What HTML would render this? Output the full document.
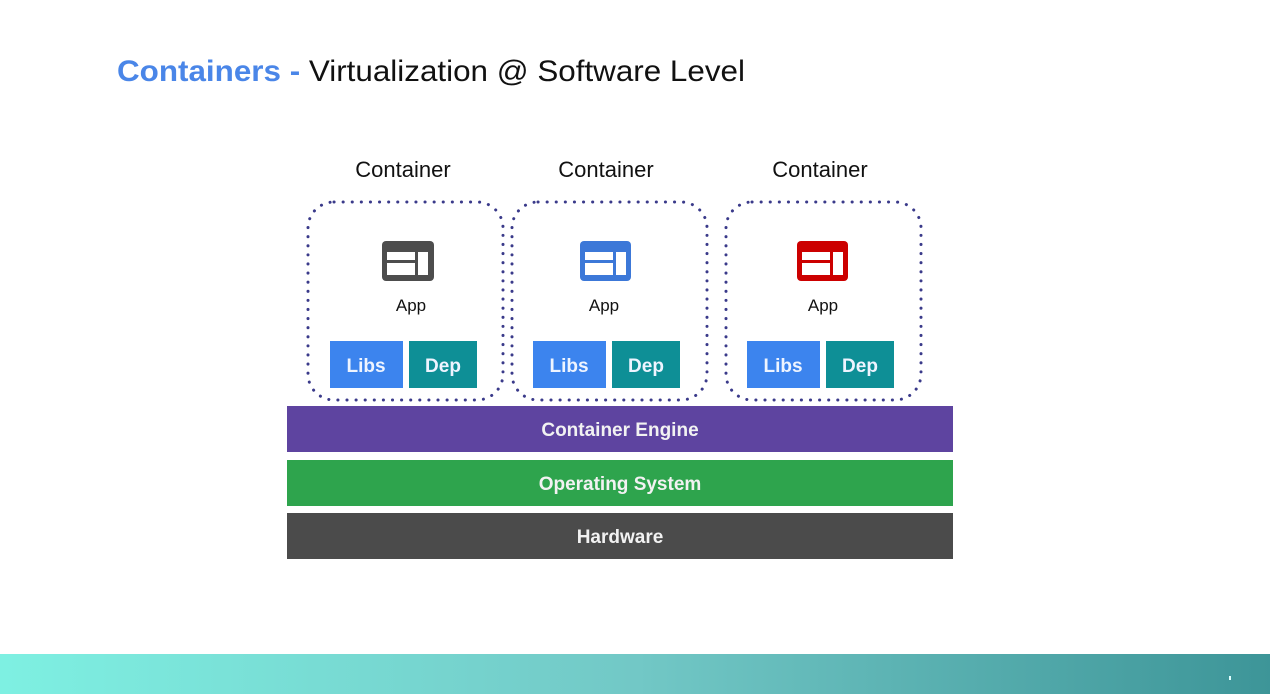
<!DOCTYPE html>
<html><head><meta charset="utf-8"><style>
html,body{margin:0;padding:0;background:#fff;}
svg{display:block;}
text{font-family:"Liberation Sans",sans-serif;}
</style></head><body>
<svg width="1270" height="694" viewBox="0 0 1270 694" xmlns="http://www.w3.org/2000/svg">
<defs>
<linearGradient id="bg" x1="0" y1="0" x2="1" y2="0">
<stop offset="0" stop-color="#7ef0e2"/><stop offset="0.5" stop-color="#72c8c6"/><stop offset="1" stop-color="#3d9598"/>
</linearGradient>
</defs>
<rect width="1270" height="694" fill="#fff"/>
<text x="117" y="81" font-size="30" textLength="628" lengthAdjust="spacingAndGlyphs"><tspan fill="#4a86e8" font-weight="bold">Containers - </tspan><tspan fill="#111">Virtualization @ Software Level</tspan></text>

<g font-size="22" fill="#111" text-anchor="middle">
<text x="403" y="177">Container</text>
<text x="606" y="177">Container</text>
<text x="820" y="177">Container</text>
</g>

<g fill="none" stroke="#3a3a8a" stroke-width="3" stroke-dasharray="0.1 9" stroke-linecap="round">
<rect x="308" y="202" width="195" height="198" rx="26"/>
<rect x="512" y="202" width="195" height="198" rx="26"/>
<rect x="726" y="202" width="195" height="198" rx="26"/>
</g>

<g>
<rect x="382" y="241" width="52" height="40" rx="4" fill="#4d4d4d"/>
<rect x="387" y="252" width="28" height="8" fill="#fff"/><rect x="387" y="263" width="28" height="12" fill="#fff"/><rect x="418" y="252" width="10" height="23" fill="#fff"/>
<rect x="580" y="241" width="51" height="40" rx="4" fill="#3c78d8"/>
<rect x="585" y="252" width="28" height="8" fill="#fff"/><rect x="585" y="263" width="28" height="12" fill="#fff"/><rect x="616" y="252" width="10" height="23" fill="#fff"/>
<rect x="797" y="241" width="51" height="40" rx="4" fill="#cc0000"/>
<rect x="802" y="252" width="28" height="8" fill="#fff"/><rect x="802" y="263" width="28" height="12" fill="#fff"/><rect x="833" y="252" width="10" height="23" fill="#fff"/>
</g>
<g font-size="17" fill="#111" text-anchor="middle">
<text x="411" y="311">App</text><text x="604" y="311">App</text><text x="823" y="311">App</text>
</g>

<g>
<rect x="330" y="341" width="73" height="47" fill="#3c84ee"/><rect x="409" y="341" width="68" height="47" fill="#0e8f96"/>
<rect x="533" y="341" width="73" height="47" fill="#3c84ee"/><rect x="612" y="341" width="68" height="47" fill="#0e8f96"/>
<rect x="747" y="341" width="73" height="47" fill="#3c84ee"/><rect x="826" y="341" width="68" height="47" fill="#0e8f96"/>
</g>
<g font-size="19" font-weight="bold" fill="#eef4ff" text-anchor="middle">
<text x="366" y="372">Libs</text><text x="443" y="372">Dep</text>
<text x="569" y="372">Libs</text><text x="646" y="372">Dep</text>
<text x="783" y="372">Libs</text><text x="860" y="372">Dep</text>
</g>

<rect x="287" y="406" width="666" height="46" fill="#5e44a0"/>
<rect x="287" y="460" width="666" height="46" fill="#2ea44d"/>
<rect x="287" y="513" width="666" height="46" fill="#4b4b4b"/>
<g font-size="19" font-weight="bold" fill="#f2f2f2" text-anchor="middle">
<text x="620" y="436">Container Engine</text>
<text x="620" y="490">Operating System</text>
<text x="620" y="543">Hardware</text>
</g>

<rect x="0" y="654" width="1270" height="40" fill="url(#bg)"/>
<rect x="1229" y="676" width="2" height="4" fill="#e0ffff"/>
</svg>
</body></html>
